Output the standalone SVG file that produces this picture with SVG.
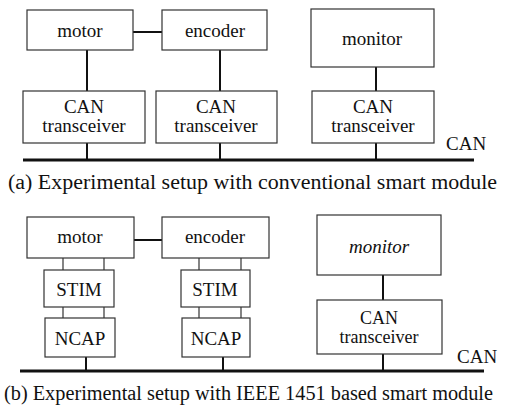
<svg xmlns="http://www.w3.org/2000/svg" width="516" height="410" viewBox="0 0 516 410">
<style>
.box{fill:#fff;stroke:#333;stroke-width:1.2}
.ln{stroke:#111;stroke-width:2;fill:none}
.thin{stroke:#333;stroke-width:1.2;fill:none}
.bus{stroke:#111;stroke-width:3;fill:none}
text{fill:#111;text-anchor:middle;font-size:19px}
.cap{font-size:20px;text-anchor:start}
.lbl{text-anchor:start}
.sm{font-size:18px}
</style>
<rect width="516" height="410" fill="#fff"/>
<g id="connectors">
<line class="bus" x1="23" y1="160" x2="474" y2="160"/>
<line class="ln" x1="133" y1="32" x2="162" y2="32"/>
<line class="ln" x1="87" y1="50" x2="87" y2="91"/>
<line class="ln" x1="220" y1="50" x2="220" y2="91"/>
<line class="ln" x1="376" y1="67" x2="376" y2="91"/>
<line class="ln" x1="87" y1="143" x2="87" y2="160"/>
<line class="ln" x1="220" y1="143" x2="220" y2="160"/>
<line class="ln" x1="376" y1="143" x2="376" y2="160"/>
<line class="bus" x1="20" y1="371" x2="484" y2="371"/>
<line class="ln" x1="134" y1="240" x2="162" y2="240"/>
<line class="thin" x1="63" y1="258" x2="63" y2="270"/>
<line class="thin" x1="104" y1="258" x2="104" y2="270"/>
<line class="thin" x1="63" y1="307" x2="63" y2="318"/>
<line class="thin" x1="104" y1="307" x2="104" y2="318"/>
<line class="thin" x1="199" y1="258" x2="199" y2="270"/>
<line class="thin" x1="241" y1="258" x2="241" y2="270"/>
<line class="thin" x1="199" y1="307" x2="199" y2="318"/>
<line class="thin" x1="241" y1="307" x2="241" y2="318"/>
<line class="ln" x1="86" y1="357" x2="86" y2="371"/>
<line class="ln" x1="223" y1="357" x2="223" y2="371"/>
<line class="ln" x1="383" y1="275" x2="383" y2="300"/>
<line class="ln" x1="383" y1="354" x2="383" y2="371"/>
</g>
<g font-family="Liberation Serif, DejaVu Serif, serif">
<g id="a-motor"><rect class="box" x="27" y="10" width="106" height="40"/><text x="80" y="37">motor</text></g>
<g id="a-encoder"><rect class="box" x="162" y="10" width="105" height="40"/><text x="215" y="37">encoder</text></g>
<g id="a-monitor"><rect class="box" x="311" y="9" width="123" height="58"/><text x="372" y="45">monitor</text></g>
<g id="a-can1"><rect class="box" x="23" y="91" width="122" height="52"/><text x="84" y="113">CAN</text><text x="84" y="132">transceiver</text></g>
<g id="a-can2"><rect class="box" x="156" y="91" width="121" height="52"/><text x="216" y="113">CAN</text><text x="216" y="132">transceiver</text></g>
<g id="a-can3"><rect class="box" x="312" y="91" width="122" height="52"/><text x="373" y="113">CAN</text><text x="373" y="132">transceiver</text></g>
<text class="lbl" x="446" y="150">CAN</text>
<text class="cap" x="8" y="189" textLength="489" lengthAdjust="spacingAndGlyphs">(a) Experimental setup with conventional smart module</text>
<g id="b-motor"><rect class="box" x="27" y="217" width="107" height="41"/><text x="80" y="243">motor</text></g>
<g id="b-encoder"><rect class="box" x="162" y="217" width="107" height="41"/><text x="215" y="243">encoder</text></g>
<g id="b-stim1"><rect class="box" x="44" y="270" width="70" height="37"/><text x="79" y="296">STIM</text></g>
<g id="b-ncap1"><rect class="box" x="45" y="318" width="70" height="39"/><text x="80" y="345">NCAP</text></g>
<g id="b-stim2"><rect class="box" x="181" y="270" width="69" height="37"/><text x="215" y="296">STIM</text></g>
<g id="b-ncap2"><rect class="box" x="182" y="318" width="68" height="39"/><text x="216" y="345">NCAP</text></g>
<g id="b-monitor"><rect class="box" x="317" y="215" width="124" height="60"/><text x="379" y="253" font-style="italic">monitor</text></g>
<g id="b-can"><rect class="box" x="317" y="300" width="125" height="54"/><text class="sm" x="379" y="324">CAN</text><text class="sm" x="379" y="343">transceiver</text></g>
<text class="lbl" x="457" y="363">CAN</text>
<text class="cap" x="4" y="400" textLength="489" lengthAdjust="spacingAndGlyphs">(b) Experimental setup with IEEE 1451 based smart module</text>
</g>
</svg>
